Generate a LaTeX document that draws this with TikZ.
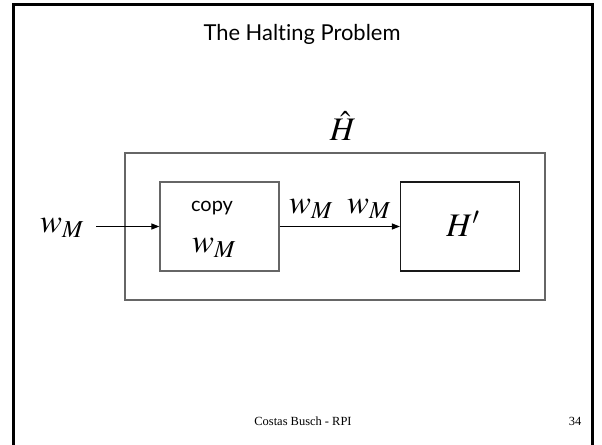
\documentclass[tikz,border=0pt]{standalone}
\usepackage{mathptmx}
\usepackage{fontspec}
\setmainfont{Liberation Serif}
\setsansfont[Ligatures=NoCommon]{Lato}
\usetikzlibrary{positioning,arrows.meta}

\begin{document}
\begin{tikzpicture}[
  x=1bp, y=-1bp,
  machine/.style={draw=black!60, line width=1.2bp, minimum width=119bp, minimum height=89bp, inner sep=0pt},
  mathlbl/.style={font=\fontsize{33}{36}\selectfont, inner sep=1bp},
  arrow/.style={-{Triangle[length=8bp,width=6bp]}, line width=1bp}
]
\useasboundingbox (0,0) rectangle (602,445);
% slide frame
\draw[line width=3bp] (13,450) -- (13,5) -- (592,5) -- (592,450);
\node[font=\sffamily\fontsize{22}{26}\selectfont] (title) at (302,34) {The Halting Problem};

% machines
\node[machine, minimum width=420bp, minimum height=147bp] (hhat) at (335,226.5) {};
\node[machine] (copybox) at (219.5,226.5) {};
\node[machine, draw=black!90] (hprime) at (460,226.5) {};

\node[mathlbl] (hhatlbl) at (343,126) {$\hat{H}$};
\node[font=\sffamily\fontsize{20}{24}\selectfont] (copylbl) at (212,208) {copy};
\node[mathlbl] (wcopy) at (214,248) {$w_M$};
\node[mathlbl] (hlbl) at (463,224) {$H'$};

% input and tape
\node[mathlbl] (win) at (62,228) {$w_M$};
\coordinate (inlet) at (96,226.5);
\draw[arrow] (inlet) -- (copybox.west);
\draw[arrow] (copybox.east) -- (hprime.west);
\node[mathlbl] (wout) at (311,209) {$w_M$};
\node[mathlbl] (wpass) at (369,209) {$w_M$};

% footer
\node[font=\fontsize{12.5}{14}\selectfont] (footer) at (303,421) {Costas Busch - RPI};
\node[font=\fontsize{12.5}{14}\selectfont] (page) at (575,421) {34};
\end{tikzpicture}
\end{document}
